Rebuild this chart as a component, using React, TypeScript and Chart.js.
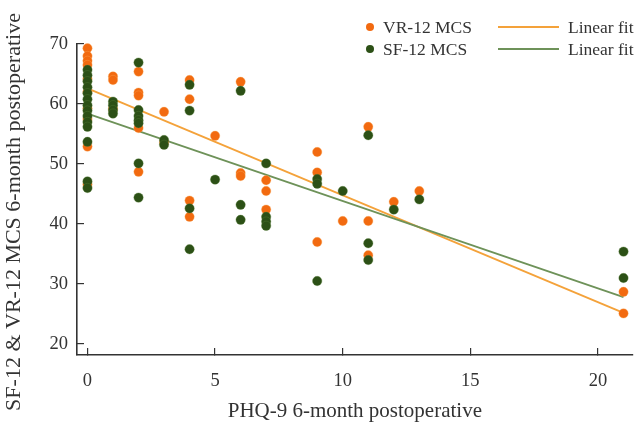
import { useEffect, useRef } from "react";
import { Chart, registerables } from "chart.js";

Chart.register(...registerables);

// ---- Data ----
const vrX = [
  0, 0, 0, 0, 0, 0, 0, 0, 0, 0,
  1, 1, 1,
  2, 2, 2, 2, 2,
  3, 3,
  4, 4, 4, 4,
  5,
  6, 6, 6,
  7, 7, 7,
  9, 9, 9,
  10,
  11, 11, 11,
  12,
  13,
  21, 21,
];
const vrY = [
  69.3, 68.0, 67.2, 66.5, 64.2, 62.0, 59.3, 57.5, 52.9, 46.6,
  64.6, 64.0, 59.2,
  65.4, 61.9, 61.4, 56.0, 48.7,
  58.7, 53.6,
  64.0, 60.8, 43.9, 41.2,
  54.7,
  63.7, 48.5, 48.0,
  47.3, 45.5, 42.4,
  52.0, 48.6, 37.0,
  40.5,
  56.2, 40.5, 34.8,
  43.7,
  45.5,
  28.7, 25.1,
];
const sfX = [
  0, 0, 0, 0, 0, 0, 0, 0, 0, 0, 0, 0, 0, 0,
  1, 1, 1, 1,
  2, 2, 2, 2, 2, 2, 2,
  3, 3,
  4, 4, 4, 4,
  5,
  6, 6, 6,
  7, 7, 7, 7,
  9, 9, 9,
  10,
  11, 11, 11,
  12,
  13,
  21, 21,
];
const sfY = [
  65.7, 64.8, 63.8, 62.8, 61.8, 60.8, 59.8, 58.9, 58.0, 57.0, 56.2, 53.7, 47.1, 46.0,
  60.4, 59.8, 59.0, 58.4,
  66.9, 59.0, 58.0, 57.3, 56.8, 50.1, 44.4,
  54.0, 53.2,
  63.2, 58.9, 42.6, 35.8,
  47.4,
  62.2, 43.2, 40.7,
  50.1, 41.2, 40.4, 39.7,
  47.5, 46.7, 30.5,
  45.5,
  54.8, 36.8, 34.0,
  42.4,
  44.1,
  35.4, 31.0,
];
const fitX = [0, 21];
const vrFitY = [62.6, 25.2];
const sfFitY = [58.4, 27.8];

const xTicks = [0, 5, 10, 15, 20];
const yTicks = [20, 30, 40, 50, 60, 70];

const vrLabel = "VR-12 MCS";
const sfLabel = "SF-12 MCS";
const fitLabel = "Linear fit";
const xTitle = "PHQ-9 6-month postoperative";
const yTitle = "SF-12 & VR-12 MCS 6-month postoperative";

// ---- Styles ----
const ORANGE = "#f26a10";
const GREEN = "#2c5016";
const ORANGE_FIT = "#f4a23a";
const GREEN_FIT = "#6e9259";
const AXIS = "#333333";
const FONT = "'Liberation Serif', 'DejaVu Serif', serif";

const pts = (xs: number[], ys: number[]) => xs.map((x, i) => ({ x, y: ys[i] }));

const legendPlugin = {
  id: "customLegend",
  afterDraw(chart: any) {
    const ctx = chart.ctx as CanvasRenderingContext2D;
    const rows = [
      { label: vrLabel, dot: ORANGE, line: ORANGE_FIT, y: 27 },
      { label: sfLabel, dot: GREEN, line: GREEN_FIT, y: 49 },
    ];
    ctx.save();
    ctx.font = `17.5px ${FONT}`;
    ctx.textBaseline = "middle";
    ctx.textAlign = "left";
    for (const r of rows) {
      ctx.fillStyle = r.dot;
      ctx.beginPath();
      ctx.arc(370, r.y, 4, 0, Math.PI * 2);
      ctx.fill();
      ctx.fillStyle = AXIS;
      ctx.fillText(r.label, 383, r.y + 1);
      ctx.strokeStyle = r.line;
      ctx.lineWidth = 2;
      ctx.beginPath();
      ctx.moveTo(498, r.y);
      ctx.lineTo(559, r.y);
      ctx.stroke();
      ctx.fillStyle = AXIS;
      ctx.fillText(fitLabel, 568, r.y + 1);
    }
    // rotated y-axis title
    ctx.font = `22px ${FONT}`;
    ctx.textAlign = "center";
    ctx.textBaseline = "middle";
    ctx.translate(14, 212);
    ctx.rotate(-Math.PI / 2);
    ctx.fillText(yTitle, 0, 0);
    ctx.restore();
  },
};

export default function App() {
  const ref = useRef<HTMLCanvasElement | null>(null);

  useEffect(() => {
    document.body.style.margin = "0";
    const canvas = ref.current;
    if (!canvas) return;
    const chart = new Chart(canvas, {
      type: "scatter",
      data: {
        datasets: [
          {
            label: sfLabel,
            data: pts(sfX, sfY),
            backgroundColor: GREEN,
            borderColor: "rgba(90,130,60,0.6)",
            borderWidth: 0.6,
            pointRadius: 4.7,
          },
          {
            label: vrLabel,
            data: pts(vrX, vrY),
            backgroundColor: ORANGE,
            borderColor: "rgba(250,170,90,0.6)",
            borderWidth: 0.6,
            pointRadius: 4.7,
          },
          {
            label: fitLabel,
            data: pts(fitX, sfFitY),
            showLine: true,
            borderColor: GREEN_FIT,
            borderWidth: 1.8,
            pointRadius: 0,
          },
          {
            label: fitLabel,
            data: pts(fitX, vrFitY),
            showLine: true,
            borderColor: ORANGE_FIT,
            borderWidth: 1.8,
            pointRadius: 0,
          },
        ],
      },
      options: {
        responsive: false,
        animation: false,
        devicePixelRatio: 1,
        clip: false as any,
        layout: { padding: { top: 44, right: 0, left: 0, bottom: 0 } },
        plugins: {
          legend: { display: false },
          tooltip: { enabled: false },
        },
        scales: {
          x: {
            type: "linear",
            min: -0.41,
            max: 21.36,
            afterBuildTicks: (s: any) => {
              s.ticks = xTicks.map((v) => ({ value: v }));
            },
            afterFit: (s: any) => {
              s.height = 68;
            },
            ticks: {
              font: { family: FONT, size: 18.5 },
              color: AXIS,
              padding: 22,
            },
            grid: {
              drawOnChartArea: false,
              tickLength: -7,
              color: AXIS,
              lineWidth: 1.2,
            },
            border: { color: AXIS, width: 1.6 },
            title: {
              display: true,
              text: xTitle,
              font: { family: FONT, size: 21 },
              color: AXIS,
              padding: { top: 0, bottom: -1 },
            },
          },
          y: {
            type: "linear",
            min: 18.17,
            max: 70,
            afterBuildTicks: (s: any) => {
              s.ticks = yTicks.map((v) => ({ value: v }));
            },
            afterFit: (s: any) => {
              s.width = 77;
            },
            ticks: {
              font: { family: FONT, size: 18.5 },
              color: AXIS,
              padding: 16,
            },
            grid: {
              drawOnChartArea: false,
              tickLength: -7,
              color: AXIS,
              lineWidth: 1.2,
            },
            border: { color: AXIS, width: 1.6 },
            title: { display: false },
          },
        },
      },
      plugins: [legendPlugin],
    });
    return () => chart.destroy();
  }, []);

  return (
    <div style={{ width: 638, height: 423 }}>
      <canvas ref={ref} width={638} height={423} />
    </div>
  );
}
